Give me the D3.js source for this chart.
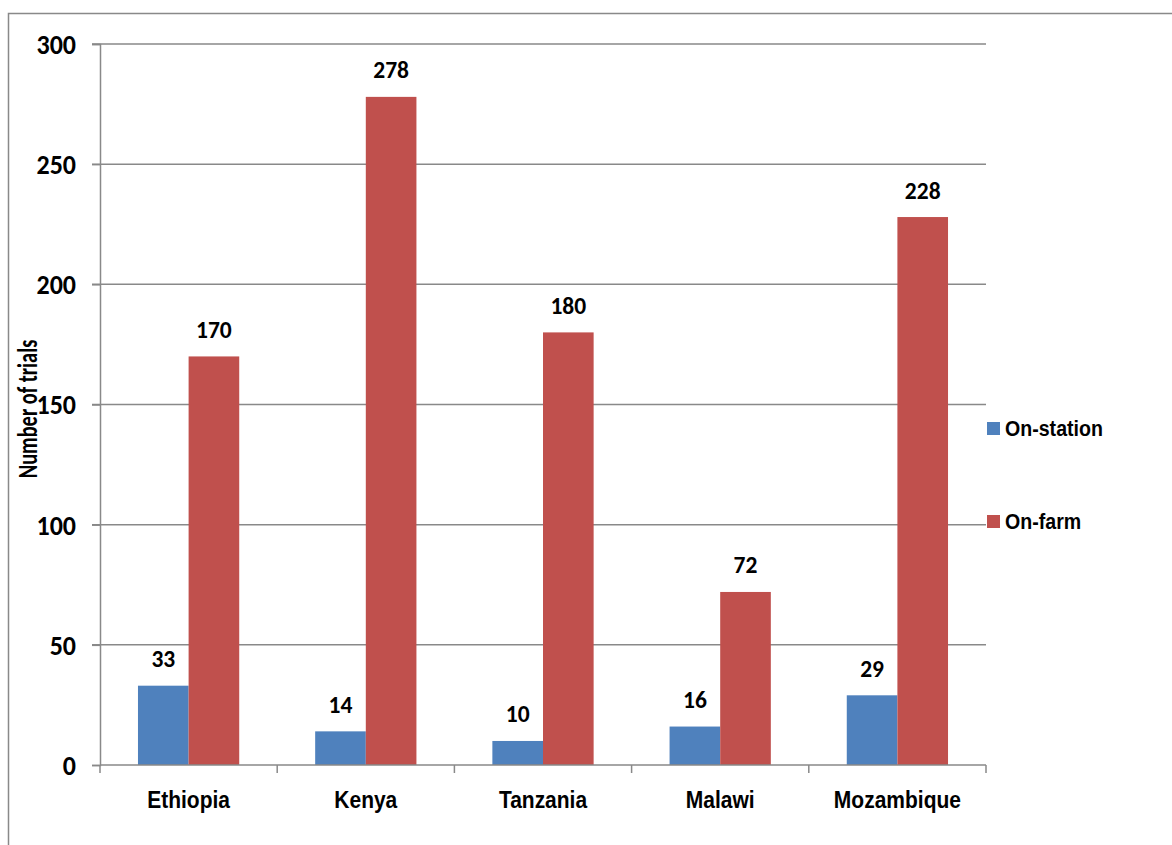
<!DOCTYPE html>
<html>
<head>
<meta charset="utf-8">
<script src="https://cdn.jsdelivr.net/npm/d3@7"></script>
<style>
  html, body { margin: 0; padding: 0; background: #ffffff; }
  svg { display: block; }
  .num { font-family: Carlito, Lato, 'Open Sans', sans-serif; font-weight: bold; }
  .lbl { font-family: 'Liberation Sans', Arial, sans-serif; font-weight: bold; }
</style>
</head>
<body>
<svg id="chart" width="1172" height="845"></svg>
<script>
// Trials per country, split by trial setting
const countries = ["Ethiopia", "Kenya", "Tanzania", "Malawi", "Mozambique"];
const seriesNames = ["On-station", "On-farm"];
const onStation = [33, 14, 10, 16, 29];
const onFarm = [170, 278, 180, 72, 228];
const yTicks = [0, 50, 100, 150, 200, 250, 300];
const seriesColors = ["#4F81BD", "#C0504D"];

const svg = d3.select("#chart");
const plot = { left: 100, right: 986, top: 44, bottom: 765 };
const gridColor = "#898989";

// outer frame (runs past the right and bottom edges)
svg.append("rect")
  .attr("x", 8.5).attr("y", 13.5)
  .attr("width", 1300).attr("height", 1000)
  .attr("fill", "none").attr("stroke", gridColor).attr("stroke-width", 1.5);

const rows = countries.map((c, i) => ({ country: c, values: [onStation[i], onFarm[i]] }));

const x0 = d3.scaleBand().domain(countries).range([plot.left, plot.right]).padding(0);
const x1 = d3.scaleBand().domain(seriesNames).range([0, x0.bandwidth()])
  .paddingInner(0).paddingOuter(0.75);
const y = d3.scaleLinear().domain([0, 300]).range([plot.bottom, plot.top]);

// horizontal gridlines
svg.append("g")
  .selectAll("line").data(yTicks.filter(t => t > 0)).join("line")
  .attr("x1", plot.left - 8).attr("x2", plot.right)
  .attr("y1", d => y(d)).attr("y2", d => y(d))
  .attr("stroke", gridColor).attr("stroke-width", 1.5);

// y axis
const yAxis = svg.append("g")
  .attr("transform", `translate(${plot.left},0)`)
  .call(d3.axisLeft(y).tickValues(yTicks).tickSize(8).tickPadding(16).tickFormat(d3.format("d")));
yAxis.select(".domain").attr("stroke", gridColor).attr("stroke-width", 1.5);
yAxis.selectAll(".tick line").attr("stroke", gridColor).attr("stroke-width", 1.5);
yAxis.selectAll(".tick text").remove();
yAxis.selectAll(".tick").append("text")
  .attr("class", "num")
  .attr("transform", "translate(-24,0) scale(1,1.1)")
  .attr("text-anchor", "end")
  .attr("dy", "0.33em")
  .attr("font-size", 26)
  .attr("fill", "#000")
  .text(d => d);

// bars
const groups = svg.append("g").selectAll("g").data(rows).join("g")
  .attr("transform", d => `translate(${x0(d.country)},0)`);

groups.selectAll("rect").data(d => d.values.map((v, i) => ({ key: seriesNames[i], value: v, i })))
  .join("rect")
  .attr("x", d => x1(d.key))
  .attr("width", x1.bandwidth())
  .attr("y", d => y(d.value))
  .attr("height", d => y(0) - y(d.value))
  .attr("fill", d => seriesColors[d.i]);

// value labels
groups.selectAll("text.val").data(d => d.values.map((v, i) => ({ key: seriesNames[i], value: v })))
  .join("text").attr("class", "val num")
  .attr("transform", d => `translate(${x1(d.key) + x1.bandwidth() / 2},${y(d.value) - 18.5}) scale(1,1.04)`)
  .attr("text-anchor", "middle")
  .attr("font-size", 23.5)
  .attr("fill", "#000")
  .text(d => d.value);

// x axis
const xAxis = svg.append("g")
  .attr("transform", `translate(0,${plot.bottom})`);
xAxis.append("line")
  .attr("x1", plot.left).attr("x2", plot.right)
  .attr("stroke", gridColor).attr("stroke-width", 1.5);
xAxis.selectAll("line.tk").data(countries.map(c => x0(c)).concat([plot.right])).join("line")
  .attr("class", "tk")
  .attr("x1", d => d).attr("x2", d => d)
  .attr("y1", 0).attr("y2", 8)
  .attr("stroke", gridColor).attr("stroke-width", 1.5);
xAxis.selectAll("text").data(countries).join("text")
  .attr("class", "lbl")
  .attr("transform", d => `translate(${x0(d) + x0.bandwidth() / 2},43) scale(1,1.13)`)
  .attr("text-anchor", "middle")
  .attr("font-size", 21)
  .attr("fill", "#000")
  .text(d => d);

// y axis title
svg.append("text")
  .attr("class", "num")
  .attr("transform", `translate(37,409) rotate(-90) scale(1,1.4)`)
  .attr("text-anchor", "middle")
  .attr("font-size", 20.4)
  .attr("fill", "#000")
  .text("Number of trials");

// legend
const legendY = [428.5, 521.5];
const legend = svg.append("g").selectAll("g").data(seriesNames).join("g")
  .attr("transform", (d, i) => `translate(987,${legendY[i]})`);
legend.append("rect")
  .attr("x", 0).attr("y", -6.5).attr("width", 13).attr("height", 13)
  .attr("fill", (d, i) => seriesColors[i]);
legend.append("text")
  .attr("class", "lbl")
  .attr("transform", "translate(18,7.5) scale(1,1.14)")
  .attr("font-size", 19.6)
  .attr("fill", "#000")
  .text(d => d);
</script>
</body>
</html>
